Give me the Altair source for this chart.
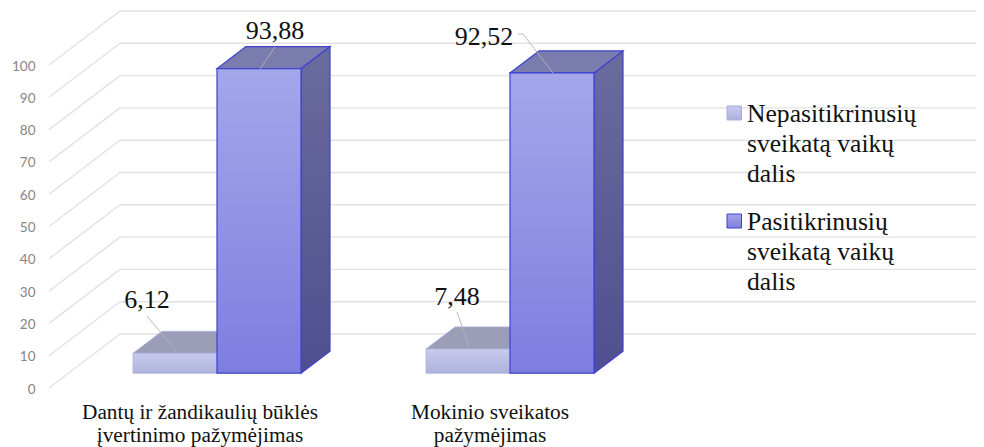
import altair as alt
import pandas as pd

# --- chart values ---
series_names = ["Nepasitikrinusių sveikatą vaikų dalis", "Pasitikrinusių sveikatą vaikų dalis"]
values_small = [6.12, 7.48]
values_tall = [93.88, 92.52]
label_small = ["6,12", "7,48"]
label_tall = ["93,88", "92,52"]
axis_ticks = [0, 10, 20, 30, 40, 50, 60, 70, 80, 90, 100]
cat_lines = [["Dantų ir žandikaulių būklės", "įvertinimo pažymėjimas"], ["Mokinio sveikatos", "pažymėjimas"]]
legend_lines = [["Nepasitikrinusių", "sveikatą vaikų", "dalis"], ["Pasitikrinusių", "sveikatą vaikų", "dalis"]]

# --- layout of the drawing (pixels on the page) ---
PX_PER_UNIT = 3.23
FRONT_ZERO = 388.0
W, H = 968, 439


def v(py):
    return (FRONT_ZERO - py) / PX_PER_UNIT


X_SCALE = alt.Scale(domain=[8, 8 + W], range=[0, W], nice=False, zero=False)
Y_SCALE = alt.Scale(domain=[v(8 + H), v(8)], range=[H, 0], nice=False, zero=False)
Y_AXIS = alt.Axis(values=axis_ticks, format="d", grid=False, domain=False, ticks=False, offset=-29, labelPadding=2,
                  labelFont="Lato", labelFontSize=13.5, labelColor="#858585", labelOffset=1, title=None)
xq = lambda f: alt.X(f, type="quantitative", scale=X_SCALE, axis=None)
yq = lambda f: alt.Y(f, type="quantitative", scale=Y_SCALE, axis=Y_AXIS)
x2 = lambda f: alt.X2(f)
y2 = lambda f: alt.Y2(f)

BAR_W = 84
CAT_CENTER = [217, 510]
FLOOR = 373.2
DX, DY = 29, -22
BAR_K = 3.245


def grad(a, b):
    return alt.Gradient(gradient="linear", x1=0, x2=0, y1=0, y2=1,
                        stops=[alt.GradientStop(color=a, offset=0), alt.GradientStop(color=b, offset=1)])


def bar_layers(values, left_of_center, front, side, topc, stroke, sw):
    rows_f, rows_s, rows_t = [], [], []
    for i, val in enumerate(values):
        x0 = CAT_CENTER[i] - BAR_W if left_of_center else CAT_CENTER[i]
        x1 = x0 + BAR_W
        top = FLOOR - val * BAR_K
        rows_f.append(dict(a=x0, b=x1, y=v(top), y2=v(FLOOR)))
        rows_s += [dict(k=i, x=x1, y=v(top), y2=v(FLOOR)),
                   dict(k=i, x=x1 + DX, y=v(top + DY), y2=v(FLOOR + DY))]
        rows_t += [dict(k=i, y=v(top), a=x0, b=x1),
                   dict(k=i, y=v(top + DY), a=x0 + DX, b=x1 + DX)]
    s = alt.Chart(pd.DataFrame(rows_s)).mark_area(color=side, stroke=stroke, strokeWidth=sw).encode(
        x=xq("x"), y=yq("y"), y2=y2("y2"), detail="k:N")
    t = alt.Chart(pd.DataFrame(rows_t)).mark_area(orient="horizontal", color=topc, stroke=stroke, strokeWidth=sw).encode(
        y=yq("y"), x=xq("a"), x2=x2("b"), detail="k:N")
    f = alt.Chart(pd.DataFrame(rows_f)).mark_rect(color=front, stroke=stroke, strokeWidth=sw).encode(
        x=xq("a"), x2=x2("b"), y=yq("y"), y2=y2("y2"))
    return [s, t, f]


# gridlines: back wall + side wall, with the value axis at the front plane
back_px = [FRONT_ZERO - 54 - t * PX_PER_UNIT for t in axis_ticks]
grid_df = pd.DataFrame(dict(t=axis_ticks, yb=[v(p) for p in back_px]))
GRID = "#e2e2e2"
axis_layer = alt.Chart(grid_df).mark_rule(color=GRID, strokeWidth=1.4).encode(
    x=alt.value(49 - 8), x2=alt.value(120 - 8), y=yq("t"), y2=alt.Y2("yb"))
back_layer = alt.Chart(grid_df).mark_rule(color=GRID, strokeWidth=1.4).encode(
    x=alt.value(120 - 8), x2=alt.value(W), y=yq("yb"))

small = bar_layers(values_small, True, grad("#c8cbec", "#aeb2dc"), "#9b9eb6", "#9b9eb6", "#a9addd", 0.8)
tall = bar_layers(values_tall, False, grad("#a4a7e9", "#7d7ee0"), grad("#6a6b9e", "#4f4f8f"), "#7b7cae", "#3f41cf", 1.2)

# leader lines from the labels to the bars
leaders = pd.DataFrame([
    dict(k=0, x=147, y=v(316)), dict(k=0, x=176, y=v(351)),
    dict(k=1, x=275, y=v(47)), dict(k=1, x=260, y=v(69)),
    dict(k=2, x=457, y=v(312)), dict(k=2, x=469, y=v(347)),
    dict(k=3, x=518, y=v(34)), dict(k=3, x=523, y=v(34)), dict(k=3, x=553, y=v(73)),
])
leader_layer = alt.Chart(leaders).mark_line(color="#b3b3b3", strokeWidth=0.9).encode(
    x=xq("x"), y=yq("y"), detail="k:N", order="idx:Q"
).transform_window(idx="row_number()", groupby=["k"])

FONT = "Liberation Serif"
val_df = pd.DataFrame(dict(
    txt=label_small + label_tall,
    x=[147, 457, 275, 484],
    y=[v(300), v(297), v(31), v(37)]))
val_layer = alt.Chart(val_df).mark_text(font=FONT, fontSize=26, color="#111111", baseline="middle", align="center").encode(
    x=xq("x"), y=yq("y"), text="txt:N")

cat_rows = []
for cx, lines in zip([200, 490], cat_lines):
    for py, line in zip([413, 436], lines):
        cat_rows.append(dict(txt=line, x=cx, y=v(py)))
cat_layer = alt.Chart(pd.DataFrame(cat_rows)).mark_text(font=FONT, fontSize=21.3, color="#111111", baseline="middle", align="center").encode(
    x=xq("x"), y=yq("y"), text="txt:N")

leg_rows = []
for py0, lines in zip([114, 222], legend_lines):
    for j, line in enumerate(lines):
        leg_rows.append(dict(txt=line, x=747, y=v(py0 + 30 * j)))
leg_layer = alt.Chart(pd.DataFrame(leg_rows)).mark_text(font=FONT, fontSize=25.6, color="#111111", baseline="middle", align="left").encode(
    x=xq("x"), y=yq("y"), text="txt:N")

sw1 = alt.Chart(pd.DataFrame([dict(n=series_names[0], a=727, b=741.5, y=v(106), y2=v(120))])).mark_rect(
    color=grad("#c8cbec", "#aeb2dc"), stroke="#a9addd", strokeWidth=1).encode(
    x=xq("a"), x2=x2("b"), y=yq("y"), y2=y2("y2"))
sw2 = alt.Chart(pd.DataFrame([dict(n=series_names[1], a=727, b=741.5, y=v(214), y2=v(228))])).mark_rect(
    color=grad("#a4a7e9", "#7d7ee0"), stroke="#3f41cf", strokeWidth=1).encode(
    x=xq("a"), x2=x2("b"), y=yq("y"), y2=y2("y2"))

chart = alt.layer(
    axis_layer, back_layer, *small, *tall, leader_layer, val_layer, cat_layer, leg_layer, sw1, sw2
).properties(
    width=W, height=H, padding=0, autosize=alt.AutoSizeParams(type="none")
).configure(background="white").configure_view(stroke=None)

chart.save("out.html", embed_options={"renderer": "svg", "actions": False})
